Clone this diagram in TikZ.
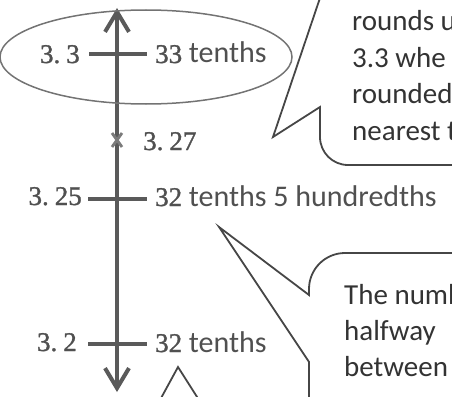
\documentclass[tikz,border=0pt]{standalone}
\usepackage{fontspec}
\setmainfont{Carlito}
\newfontfamily\numfont[FakeBold=1.2]{Liberation Serif}
\usetikzlibrary{arrows.meta}
\definecolor{axisgrey}{RGB}{90,90,90}
\definecolor{textgrey}{RGB}{80,80,80}
\definecolor{linegrey}{RGB}{70,70,70}
\newcommand{\serifnum}[1]{{\numfont\fontsize{27}{30}\selectfont #1}}

\begin{document}
\begin{tikzpicture}[
      x=1pt, y=-1pt,
      every node/.style={inner sep=0pt,text=textgrey},
      numlabel/.style={font=\numfont\fontsize{27}{30}\selectfont,anchor=base east},
      wordlabel/.style={font=\fontsize{30}{36}\selectfont,anchor=base west},
      bubbletext/.style={font=\fontsize{29}{36}\selectfont,text=black!80,anchor=base west},
      axis/.style={draw=axisgrey,line width=4pt},
      tickmark/.style={draw=axisgrey,line width=4pt},
      ring/.style={draw=axisgrey!85,line width=1.5pt},
      callout/.style={draw=linegrey,line width=1.8pt,line join=miter}
    ]
      \useasboundingbox (0,0) rectangle (452,396);
      \clip (0,0) rectangle (452,396);

      % The number line with its three ticks
      \coordinate (top) at (117,8);
      \coordinate (bottom) at (117,392);
      \coordinate (t33) at (117,54);
      \coordinate (t325) at (117,199);
      \coordinate (t32) at (117,344);
      \draw[axis,{Straight Barb[length=20pt,width=24pt]}-{Straight Barb[length=20pt,width=24pt]}]
        (bottom) -- (top);
      \draw[tickmark] (t33) ++(-28,0) -- ++(58,0);
      \draw[tickmark] (t325) ++(-29,0) -- ++(59,0);
      \draw[tickmark] (t32) ++(-29,0) -- ++(59,0);

      % The mark for 3.27
      \coordinate (m327) at (117,140);
      \draw[axisgrey!80,line width=2.8pt] (m327) ++(-5,-7) -- ++(10,14);
      \draw[axisgrey!80,line width=2.8pt] (m327) ++(5,-7) -- ++(-10,14);

      % Labels on both sides of the line
      \node[numlabel] (n33) at (80,63) {3.\kern6pt3};
      \node[wordlabel] (w33) at (155,63) {\serifnum{33} tenths};
      \node[numlabel,anchor=base west] (n327) at (143,150) {3.\kern6pt27};
      \node[numlabel] (n325) at (82,205) {3.\kern6pt25};
      \node[wordlabel] (w325) at (155,206) {\serifnum{32} tenths 5 hundredths};
      \node[numlabel] (n32) at (77,351) {3.\kern6pt2};
      \node[wordlabel] (w32) at (155,352) {\serifnum{32} tenths};

      % Ring round 3.3
      \draw[ring] (146,57) ellipse [x radius=146, y radius=47];

      % Upper speech bubble
      \draw[callout] (321,-5) -- (273,137) -- (320,107) -- (320,137)
        arc[start angle=180,end angle=90,radius=28] -- (470,165);
      \node[bubbletext] (r1) at (352,30.5) {rounds u};
      \node[bubbletext] (r2) at (352,67) {3.3 whe};
      \node[bubbletext] (r3) at (352,103.5) {rounded};
      \node[bubbletext] (r4) at (352,140) {nearest t};

      % Lower speech bubble
      \draw[callout] (470,253) -- (345,253)
        arc[start angle=270,end angle=180,radius=36] -- (309,295)
        -- (219,227) -- (309,362) -- (309,410);
      \node[bubbletext] (h1) at (344,304) {The numb};
      \node[bubbletext] (h2) at (344,340) {halfway};
      \node[bubbletext] (h3) at (344,376) {between};

      % Pointer of a third bubble
      \draw[callout] (160,400) -- (178,367) -- (199,400);
    \end{tikzpicture}
\end{document}
